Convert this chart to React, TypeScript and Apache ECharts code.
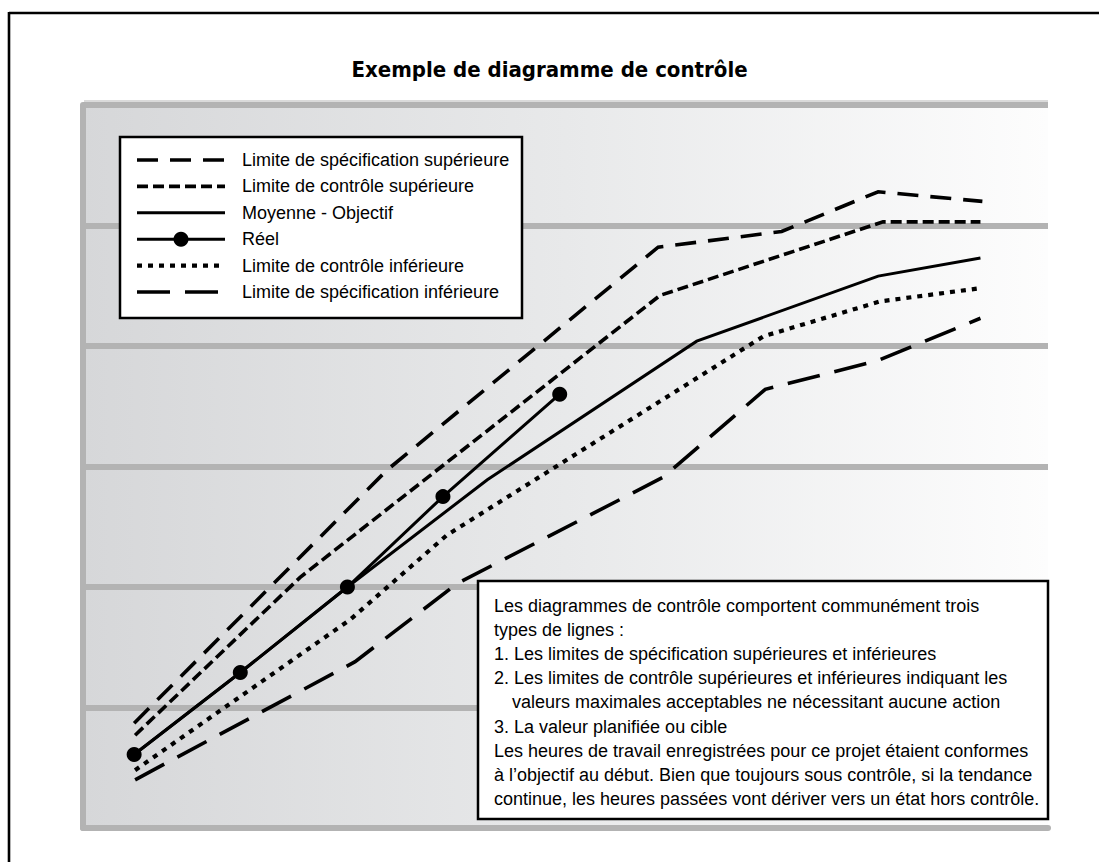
import { useEffect, useRef } from "react";
import * as echarts from "echarts";

// ---------- data ----------
const chartTitle = "Exemple de diagramme de contrôle";

const seriesNames = [
  "Limite de spécification supérieure",
  "Limite de contrôle supérieure",
  "Moyenne - Objectif",
  "Réel",
  "Limite de contrôle inférieure",
  "Limite de spécification inférieure",
];

// [x, y] pairs: x on a 0..100 scale, y on a 0..60 scale
const upperSpec: [number, number][] = [
  [5.3, 8.7], [31.5, 29.7], [59.6, 48.2], [72.4, 49.5], [82.4, 52.8], [93.2, 52.0],
];
const upperControl: [number, number][] = [
  [5.4, 7.7], [22.5, 20.8], [59.8, 44.2], [82.9, 50.3], [93.0, 50.3],
];
const meanTarget: [number, number][] = [
  [5.3, 6.1], [16.3, 12.9], [27.4, 20.0], [41.9, 28.9], [63.6, 40.4], [82.4, 45.8], [93.0, 47.3],
];
const actual: [number, number][] = [
  [5.3, 6.1], [16.3, 12.9], [27.4, 20.0], [37.3, 27.5], [49.4, 36.0],
];
const lowerControl: [number, number][] = [
  [5.4, 4.8], [27.7, 17.3], [37.7, 24.3], [70.5, 40.8], [82.6, 43.7], [93.0, 44.8],
];
const lowerSpec: [number, number][] = [
  [5.4, 4.0], [28.2, 13.8], [38.8, 20.3], [60.1, 29.1], [70.7, 36.4], [82.4, 38.8], [93.0, 42.3],
];

const noteLines = [
  "Les diagrammes de contrôle comportent communément trois",
  "types de lignes :",
  "1. Les limites de spécification supérieures et inférieures",
  "2. Les limites de contrôle supérieures et inférieures indiquant les",
  "valeurs maximales acceptables ne nécessitant aucune action",
  "3. La valeur planifiée ou cible",
  "Les heures de travail enregistrées pour ce projet étaient conformes",
  "à l’objectif au début. Bien que toujours sous contrôle, si la tendance",
  "continue, les heures passées vont dériver vers un état hors contrôle.",
];
const noteIndented = [false, false, false, false, true, false, false, false, false];

// ---------- styles ----------
const FONT = "'Liberation Sans', Arial, Helvetica, sans-serif";
const TITLE_FONT = "'DejaVu Sans Condensed', 'Liberation Sans', Arial, sans-serif";
const GRID_GREY = "#b3b3b3";
const TEXT_SIZE = 18;

const seriesData = [upperSpec, upperControl, meanTarget, actual, lowerControl, lowerSpec];
const seriesDash: (number[] | null)[] = [[21, 12], [11, 5], null, null, [5, 6], [33, 15]];
const seriesWidth = [3.6, 3.6, 3, 3, 4.2, 3.6];
const seriesSymbol = [false, false, false, true, false, false];

export default function App() {
  const ref = useRef<HTMLDivElement>(null);

  useEffect(() => {
    const chart = echarts.init(ref.current!, null, { renderer: "svg" });

    const series = seriesNames.map((name, i) => ({
      type: "line",
      name,
      data: seriesData[i],
      silent: true,
      showSymbol: seriesSymbol[i],
      symbol: seriesSymbol[i] ? "circle" : "none",
      symbolSize: 15,
      itemStyle: { color: "#000" },
      lineStyle: {
        color: "#000",
        width: seriesWidth[i],
        type: seriesDash[i] ? seriesDash[i] : "solid",
        cap: "butt",
        join: "miter",
      },
      z: 3,
    }));

    const TOP_Z = 100;
    const graphics: any[] = [
      {
        type: "line",
        shape: { x1: 9, y1: 13, x2: 1110, y2: 13 },
        style: { stroke: "#000", lineWidth: 2.6 },
        z: TOP_Z,
      },
      {
        type: "line",
        shape: { x1: 9, y1: 12, x2: 9, y2: 880 },
        style: { stroke: "#000", lineWidth: 2.6 },
        z: TOP_Z,
      },
      {
        type: "line",
        shape: { x1: 84, y1: 101, x2: 1048, y2: 101 },
        style: { stroke: "#dadada", lineWidth: 2 },
        z: 1,
      },
      // legend box
      {
        type: "rect",
        shape: { x: 120, y: 137, width: 402, height: 181 },
        style: { fill: "#fff", stroke: "#000", lineWidth: 2.5 },
        z: TOP_Z,
      },
    ];

    const legendTop = 160;
    const legendStep = 26.4;
    seriesNames.forEach((name, i) => {
      const y = legendTop + i * legendStep;
      graphics.push({
        type: "line",
        shape: { x1: 137, y1: y, x2: 225, y2: y },
        style: {
          stroke: "#000",
          lineWidth: seriesWidth[i],
          lineDash: seriesDash[i] || null,
          lineCap: "butt",
        },
        z: TOP_Z + 1,
      });
      if (seriesSymbol[i]) {
        graphics.push({
          type: "circle",
          shape: { cx: 181, cy: y, r: 7.5 },
          style: { fill: "#000" },
          z: TOP_Z + 2,
        });
      }
      graphics.push({
        type: "text",
        x: 242,
        y,
        style: {
          text: name,
          fill: "#000",
          fontSize: TEXT_SIZE,
          fontFamily: FONT,
          verticalAlign: "middle",
        },
        z: TOP_Z + 1,
      });
    });

    // note box
    graphics.push({
      type: "rect",
      shape: { x: 478, y: 581, width: 570, height: 238 },
      style: { fill: "#fff", stroke: "#000", lineWidth: 2.5 },
      z: TOP_Z,
    });
    noteLines.forEach((line, i) => {
      graphics.push({
        type: "text",
        x: noteIndented[i] ? 512 : 494,
        y: 606 + i * 24.1,
        style: {
          text: line,
          fill: "#000",
          fontSize: TEXT_SIZE,
          fontFamily: FONT,
          verticalAlign: "middle",
        },
        z: TOP_Z + 1,
      });
    });

    chart.setOption({
      animation: false,
      backgroundColor: "#fff",
      title: {
        text: chartTitle,
        left: "center",
        top: 58,
        padding: 0,
        textStyle: { fontSize: 22, fontWeight: "bold", fontFamily: TITLE_FONT, color: "#000" },
      },
      grid: {
        left: 83,
        right: 51,
        top: 105,
        bottom: 34,
        show: true,
        borderWidth: 0,
        backgroundColor: new echarts.graphic.LinearGradient(0, 0, 1, 0, [
          { offset: 0, color: "#d6d7d9" },
          { offset: 0.5, color: "#e8e9ea" },
          { offset: 1, color: "#fdfdfd" },
        ]),
      },
      xAxis: {
        type: "value",
        min: 0,
        max: 100,
        axisLine: { show: true, onZero: false, lineStyle: { color: GRID_GREY, width: 6 } },
        axisTick: { show: false },
        axisLabel: { show: false },
        splitLine: { show: false },
      },
      yAxis: {
        type: "value",
        min: 0,
        max: 60,
        interval: 10,
        axisLine: { show: true, lineStyle: { color: GRID_GREY, width: 6 } },
        axisTick: { show: false },
        axisLabel: { show: false },
        splitLine: { show: true, lineStyle: { color: GRID_GREY, width: 6 } },
      },
      series,
      graphic: graphics,
    });

    return () => chart.dispose();
  }, []);

  return (
    <div
      ref={ref}
      style={{ position: "fixed", left: 0, top: 0, width: 1099, height: 862, background: "#fff" }}
    />
  );
}
